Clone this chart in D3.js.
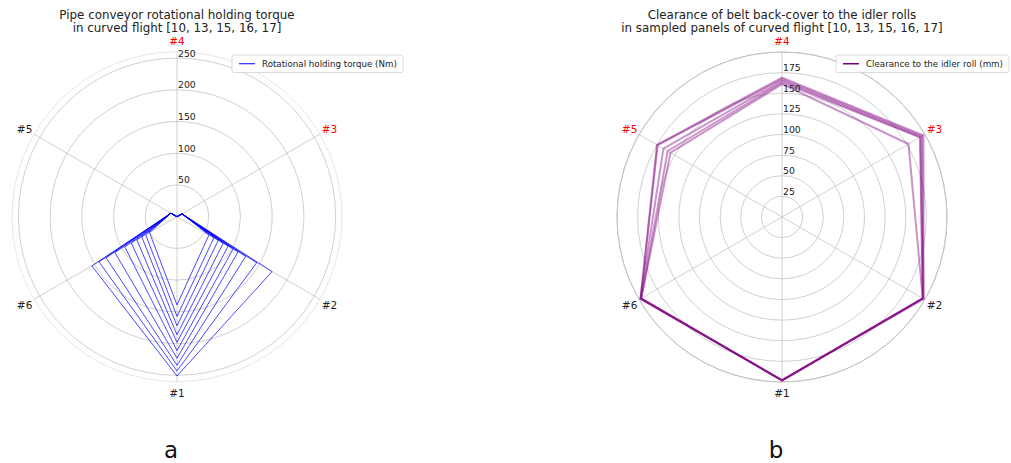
<!DOCTYPE html>
<html>
<head>
<meta charset="utf-8">
<script src="https://cdn.jsdelivr.net/npm/d3@7/dist/d3.min.js"></script>
<style>
  html, body { margin: 0; padding: 0; background: #fff; }
  svg { display: block; }
  text { font-family: "DejaVu Sans", sans-serif; }
</style>
</head>
<body>
<svg id="fig" width="1011" height="463"></svg>
<script>
// Idler roll positions around the pipe
const rolls = ["#1", "#2", "#3", "#4", "#5", "#6"];

// ---- (a) rotational holding torque, Nm, one polygon per load step
const torqueTicks = [50, 100, 150, 200, 250];
const torqueRoll1 = [139, 157, 172, 186, 198, 211, 223, 234, 243, 251];
const torqueRoll2 = [58, 67, 75, 84, 93, 102, 111, 125, 145, 173];
const torqueRoll3 = [9, 9, 9, 9, 9, 9, 9, 9, 9, 9];
const torqueRoll4 = [0, 0, 0, 0, 0, 0, 0, 0, 0, 0];
const torqueRoll5 = [11, 11, 11, 11, 11, 11, 11, 11, 11, 11];
const torqueRoll6 = [50, 57, 64, 73, 83, 95, 113, 129, 142, 155];
const torqueRed = ["#3", "#4"];

// ---- (b) clearance of belt back-cover to idler rolls, mm, sampled panels
const panels = [10, 13, 15, 16, 17];
const clearanceTicks = [25, 50, 75, 100, 125, 150, 175];
const clearanceRoll1 = [198, 198, 198, 198, 198];
const clearanceRoll2 = [198, 198, 197, 197, 197];
const clearanceRoll3 = [198, 196, 194, 193, 177];
const clearanceRoll4 = [169, 167, 165, 163, 161];
const clearanceRoll5 = [175, 174, 166, 160, 156];
const clearanceRoll6 = [198, 198, 198, 197, 197];
const clearanceRed = ["#3", "#4", "#5"];

const svg = d3.select("#fig");
const R = 165;
// roll #1 at the bottom, numbering counter-clockwise
const angleOf = i => Math.PI - i * Math.PI / 3;

function polar(cfg) {
  const g = svg.append("g").attr("transform", `translate(${cfg.cx},${cfg.cy})`);
  const r = d3.scaleLinear().domain([0, cfg.rmax]).range([0, R]);

  // outer frame of the polar axes
  g.append("circle").attr("r", R).attr("fill", "none")
    .attr("stroke", cfg.spine).attr("stroke-width", 0.9);

  // radial gridlines
  g.selectAll("circle.grid").data(cfg.grid).join("circle")
    .attr("class", "grid").attr("r", d => r(d)).attr("fill", "none")
    .attr("stroke", "#c4c4c4").attr("stroke-width", 0.8);

  // spokes
  g.selectAll("line.spoke").data(rolls).join("line")
    .attr("class", "spoke")
    .attr("x1", 0).attr("y1", 0)
    .attr("x2", (d, i) => R * Math.sin(angleOf(i)))
    .attr("y2", (d, i) => -R * Math.cos(angleOf(i)))
    .attr("stroke", "#c4c4c4").attr("stroke-width", 0.8);

  // polygons
  const line = d3.lineRadial()
    .angle((d, i) => angleOf(i))
    .radius(d => r(d))
    .curve(d3.curveLinearClosed);
  g.selectAll("path.series").data(cfg.series).join("path")
    .attr("class", "series")
    .attr("d", d => line(d))
    .attr("fill", "none")
    .attr("stroke", cfg.color)
    .attr("stroke-opacity", cfg.opacity)
    .attr("stroke-width", cfg.width)
    .attr("stroke-linejoin", "miter");

  // radius tick labels along the upward spoke
  g.selectAll("text.rtick").data(cfg.labels).join("text")
    .attr("class", "rtick")
    .attr("x", 1).attr("y", d => -r(d) - 1.5)
    .attr("font-size", 9.3).attr("fill", "#222")
    .text(d => d);

  // roll labels
  g.selectAll("text.roll").data(rolls).join("text")
    .attr("class", "roll")
    .attr("x", (d, i) => 176 * Math.sin(angleOf(i)))
    .attr("y", (d, i) => -176 * Math.cos(angleOf(i)))
    .attr("text-anchor", "middle").attr("dominant-baseline", "central")
    .attr("font-size", 10.5)
    .attr("fill", d => cfg.red.includes(d) ? "#ff0000" : "#222")
    .text(d => d);

  // title
  const t = svg.append("text").attr("x", cfg.cx).attr("text-anchor", "middle")
    .attr("font-size", 11.9).attr("fill", "#222");
  cfg.title.forEach((s, k) => t.append("tspan").attr("x", cfg.cx).attr("y", 18.5 + 13.6 * k).text(s));

  // legend
  const lg = svg.append("g").attr("transform", `translate(${cfg.legend.x},${cfg.legend.y})`);
  lg.append("rect").attr("width", cfg.legend.w).attr("height", 17.5).attr("rx", 2)
    .attr("fill", "#fff").attr("fill-opacity", 0.85)
    .attr("stroke", "#d0d0d0").attr("stroke-width", 0.8);
  lg.append("line").attr("x1", 7).attr("x2", 23).attr("y1", 8.75).attr("y2", 8.75)
    .attr("stroke", cfg.legendColor).attr("stroke-width", cfg.legendWidth);
  lg.append("text").attr("x", 30).attr("y", 8.75).attr("dominant-baseline", "central")
    .attr("font-size", 8.7).attr("fill", "#222").text(cfg.legend.label);

  // panel letter
  svg.append("text").attr("x", cfg.cx - 6).attr("y", 458).attr("text-anchor", "middle")
    .attr("font-family", "'Liberation Sans', Arial, sans-serif")
    .attr("font-size", 23).attr("fill", "#111").text(cfg.letter);
}

const torqueSeries = torqueRoll1.map((_, k) => [
  torqueRoll1[k], torqueRoll2[k], torqueRoll3[k], torqueRoll4[k], torqueRoll5[k], torqueRoll6[k]
]);
const clearanceSeries = panels.map((_, k) => [
  clearanceRoll1[k], clearanceRoll2[k], clearanceRoll3[k], clearanceRoll4[k], clearanceRoll5[k], clearanceRoll6[k]
]);

polar({
  cx: 177, cy: 216.7, rmax: 260,
  grid: torqueTicks, labels: torqueTicks,
  spine: "#e4e4e4",
  series: torqueSeries, color: "#0000ff", opacity: 0.9, width: 0.8,
  red: torqueRed,
  title: ["Pipe conveyor rotational holding torque", "in curved flight [10, 13, 15, 16, 17]"],
  legend: { x: 232, y: 55, w: 171, label: "Rotational holding torque (Nm)" },
  legendColor: "#0000ff", legendWidth: 1,
  letter: "a"
});

polar({
  cx: 782, cy: 217, rmax: 200,
  grid: clearanceTicks.concat([200]), labels: clearanceTicks,
  spine: "#b8b8b8",
  series: clearanceSeries, color: "#800080", opacity: 0.42, width: 2,
  red: clearanceRed,
  title: ["Clearance of belt back-cover to the idler rolls", "in sampled panels of curved flight [10, 13, 15, 16, 17]"],
  legend: { x: 836, y: 55, w: 173, label: "Clearance to the idler roll (mm)" },
  legendColor: "#800080", legendWidth: 1.5,
  letter: "b"
});
</script>
</body>
</html>
